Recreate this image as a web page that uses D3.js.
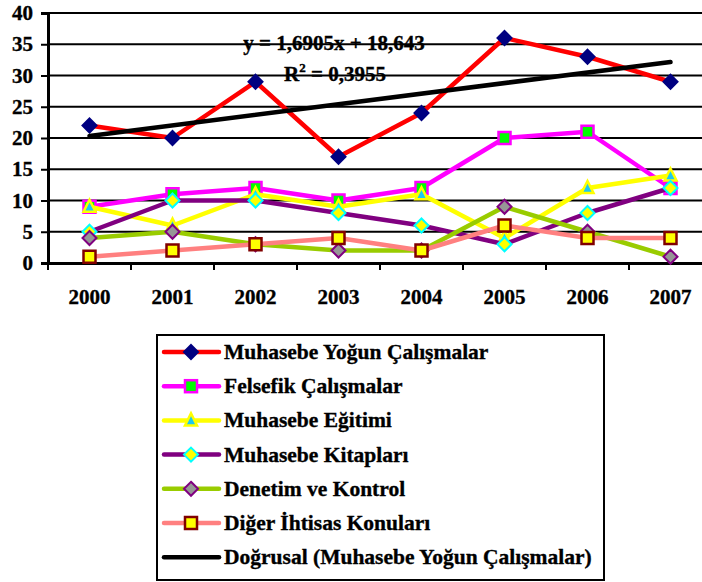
<!DOCTYPE html>
<html lang="tr">
<head>
<meta charset="UTF-8">
<title>Muhasebe yayınları</title>
<script src="https://cdn.jsdelivr.net/npm/d3@7"></script>
<style>
  body { margin: 0; background: #fff; }
  svg { display: block; }
  svg text { font-family: "Liberation Serif", "Times New Roman", serif !important; font-weight: bold; fill: #000; stroke: #000; stroke-width: 0.35px; }
</style>
</head>
<body>
<script>
// data
const years = ['2000', '2001', '2002', '2003', '2004', '2005', '2006', '2007']
const yogun = [22, 20, 29, 17, 24, 36, 33, 29]
const felsefik = [9, 11, 12, 10, 12, 20, 21, 12]
const egitim = [9, 6, 11, 9, 11, 4, 12, 14]
const kitaplar = [5, 10, 10, 8, 6, 3, 8, 12]
const denetim = [4, 5, 3, 2, 2, 9, 5, 1]
const diger = [1, 2, 3, 4, 2, 6, 4, 4]
const yTicks = [0, 5, 10, 15, 20, 25, 30, 35, 40]
const trendSlope = 1.6905
const trendIntercept = 18.643
const trendR2 = '0,3955'

const series = [
    { name: 'Muhasebe Yoğun Çalışmalar', values: yogun, line: '#ff0000', shape: 'diamond', fill: '#000080', stroke: '#000080' },
    { name: 'Felsefik Çalışmalar', values: felsefik, line: '#ff00ff', shape: 'square', fill: '#00ff00', stroke: '#ff00ff' },
    { name: 'Muhasebe Eğitimi', values: egitim, line: '#ffff00', shape: 'triangle', fill: '#1ec8f0', stroke: '#ffff00' },
    { name: 'Muhasebe Kitapları', values: kitaplar, line: '#800080', shape: 'diamond', fill: '#ffff00', stroke: '#00ffff' },
    { name: 'Denetim ve Kontrol', values: denetim, line: '#99cc00', shape: 'diamond', fill: '#969696', stroke: '#800080' },
    { name: 'Diğer İhtisas Konuları', values: diger, line: '#ff8080', shape: 'square', fill: '#ffff00', stroke: '#800000' }
]

const width = 702
const height = 582
const margin = { top: 13, left: 48, bottom: 263, right: 712 }

const svg = d3.select('body').append('svg')
    .attr('width', width)
    .attr('height', height)

const x = d3.scaleBand().domain(years).range([margin.left, margin.right])
const y = d3.scaleLinear().domain([0, 40]).range([margin.bottom, margin.top])
const cx = d => x(d) + x.bandwidth() / 2

// gridlines
svg.append('g')
    .selectAll('line')
    .data(yTicks.slice(1))
    .join('line')
    .attr('x1', margin.left)
    .attr('x2', width)
    .attr('y1', d => y(d))
    .attr('y2', d => y(d))
    .attr('stroke', '#000')
    .attr('stroke-width', 2)

// y axis
const yAxis = svg.append('g')
    .attr('transform', `translate(${margin.left},0)`)
    .call(d3.axisLeft(y).tickValues(yTicks).tickSize(7).tickPadding(8))
yAxis.select('.domain').attr('stroke-width', 3)
yAxis.selectAll('.tick line').attr('stroke-width', 2)
yAxis.selectAll('text').attr('font-size', 21)

// x axis
const xAxis = svg.append('g')
    .attr('transform', `translate(0,${margin.bottom})`)
    .call(d3.axisBottom(x).tickSize(0).tickPadding(26))
xAxis.select('.domain').attr('stroke-width', 3)
xAxis.selectAll('text').attr('font-size', 21)

// category boundary ticks
svg.append('g')
    .selectAll('line')
    .data(years)
    .join('line')
    .attr('x1', d => x(d))
    .attr('x2', d => x(d))
    .attr('y1', margin.bottom)
    .attr('y2', margin.bottom + 7)
    .attr('stroke', '#000')
    .attr('stroke-width', 2)

function drawMarker(g, shape, fill, stroke) {
    if (shape === 'diamond') {
        g.append('path').attr('d', 'M0,-7 L7,0 L0,7 L-7,0 Z')
            .attr('fill', fill).attr('stroke', stroke).attr('stroke-width', 2)
    } else if (shape === 'square') {
        g.append('rect').attr('x', -6).attr('y', -6).attr('width', 12).attr('height', 12)
            .attr('fill', fill).attr('stroke', stroke).attr('stroke-width', 2.5)
    } else {
        g.append('path').attr('d', 'M0,-7 L6,5 L-6,5 Z')
            .attr('fill', fill).attr('stroke', stroke).attr('stroke-width', 2.5)
    }
}

const line = d3.line()
    .x((d, i) => cx(years[i]))
    .y(d => y(d))

const plot = svg.append('g')

series.forEach(s => {
    plot.append('path')
        .datum(s.values)
        .attr('d', line)
        .attr('fill', 'none')
        .attr('stroke', s.line)
        .attr('stroke-width', 4.5)
        .attr('stroke-linejoin', 'round')

    s.values.forEach((v, i) => {
        const g = plot.append('g').attr('transform', `translate(${cx(years[i])},${y(v)})`)
        drawMarker(g, s.shape, s.fill, s.stroke)
    })
})

// linear trend of the first series
const trendPts = [1, years.length]
plot.append('line')
    .attr('x1', cx(years[0]))
    .attr('y1', y(trendSlope * trendPts[0] + trendIntercept))
    .attr('x2', cx(years[years.length - 1]))
    .attr('y2', y(trendSlope * trendPts[1] + trendIntercept))
    .attr('stroke', '#000')
    .attr('stroke-width', 4.5)
    .attr('stroke-linecap', 'round')

// equation
svg.append('text')
    .attr('x', 334)
    .attr('y', 50)
    .attr('text-anchor', 'middle')
    .attr('font-size', 21)
    .text('y = 1,6905x + 18,643')

const r2 = svg.append('text')
    .attr('x', 335)
    .attr('y', 81)
    .attr('text-anchor', 'middle')
    .attr('font-size', 21)
r2.append('tspan').text('R')
r2.append('tspan').attr('font-size', 13).attr('dy', -9).text('2')
r2.append('tspan').attr('dy', 9).text(' = ' + trendR2)

// legend
const legend = svg.append('g')
legend.append('rect')
    .attr('x', 157)
    .attr('y', 335)
    .attr('width', 447)
    .attr('height', 245)
    .attr('fill', '#fff')
    .attr('stroke', '#000')
    .attr('stroke-width', 2)

const legendItems = series.concat([{ name: 'Doğrusal (Muhasebe Yoğun Çalışmalar)', line: '#000' }])
legendItems.forEach((s, i) => {
    const ly = 352 + i * 34.2
    const g = legend.append('g').attr('transform', `translate(0,${ly})`)
    g.append('line')
        .attr('x1', 164).attr('x2', 219)
        .attr('stroke', s.line).attr('stroke-width', 4.5)
        .attr('stroke-linecap', 'round')
    if (s.shape) {
        drawMarker(g.append('g').attr('transform', 'translate(191,0)'), s.shape, s.fill, s.stroke)
    }
    g.append('text')
        .attr('x', 224)
        .attr('y', 7)
        .attr('font-size', 21.5)
        .text(s.name)
})
</script>
</body>
</html>
